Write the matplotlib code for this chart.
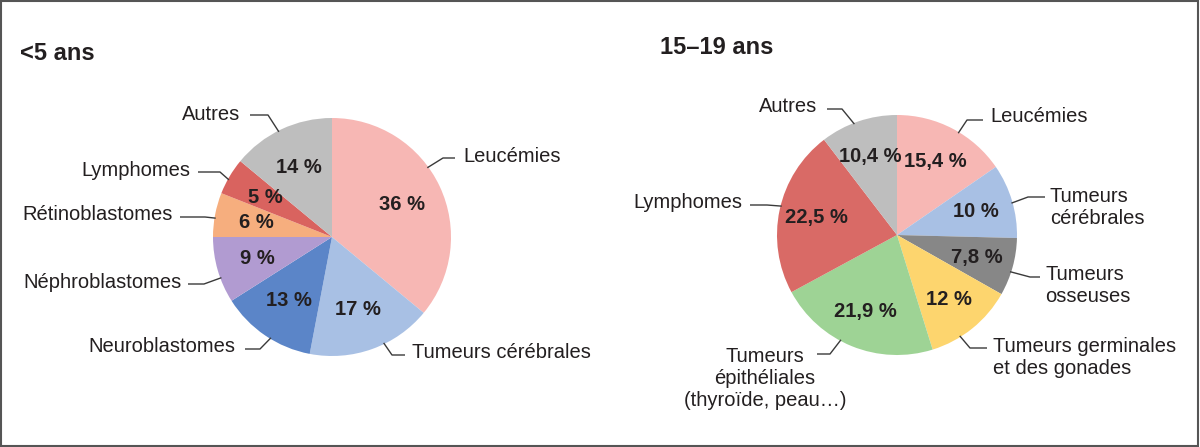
import matplotlib
matplotlib.use("Agg")
import numpy as np
import matplotlib.pyplot as plt
from matplotlib.patches import Rectangle

plt.rcParams['font.family'] = ['Liberation Sans', 'DejaVu Sans']

# Données
titre_gauche = "<5 ans"
cat_gauche = ["Leucémies", "Tumeurs cérébrales", "Neuroblastomes", "Néphroblastomes",
              "Rétinoblastomes", "Lymphomes", "Autres"]
val_gauche = [36, 17, 13, 9, 6, 5, 14]
coul_gauche = ["#f7b7b4", "#a8c0e4", "#5b85c8", "#b19bd1", "#f6ae7e", "#d9635f", "#bebebe"]

titre_droite = "15–19 ans"
cat_droite = ["Leucémies", "Tumeurs\ncérébrales", "Tumeurs\nosseuses",
              "Tumeurs germinales\net des gonades",
              "Tumeurs\népithéliales\n(thyroïde, peau…)", "Lymphomes", "Autres"]
val_droite = [15.4, 10, 7.8, 12, 21.9, 22.5, 10.4]
coul_droite = ["#f7b7b4", "#a8c0e4", "#878787", "#fdd56e", "#9ed395", "#d96a66", "#bebebe"]

# Mise en page (pixels, origine en haut à gauche)
W, H = 1200, 447
TXT = "#231f20"
# (x texte, y texte, ha, y trait, début trait, coude, décalage angle)
pos_gauche = [(463, 157, 'left', 158, 455, 443, 10.8),
              (412, 353, 'left', 355, 405, 392, 6.2),
              (235, 347, 'right', 349, 245, 260, 3),
              (182, 282, 'right', 284, 188, 204, 4),
              (173, 215, 'right', 217, 180, 205, 1.6),
              (190, 170, 'right', 172, 198, 220, 1.6),
              (240, 114, 'right', 115, 250, 268, 1.6)]
pos_droite = [(990, 117, 'left', 120, 983, 967, -3.3),
              (1050, 207, 'left', 197, 1045, 1028, -1),
              (1045, 285, 'left', 277, 1040, 1030, -2.5),
              (993, 357, 'left', 348, 987, 970, -7),
              (765, 378, 'center', 354, 817, 830, -6),
              (742, 203, 'right', 205, 750, 767, -2),
              (817, 107, 'right', 109, 827, 842, 2.3)]


def fmt(v):
    return f"{v:g}".replace(".", ",") + " %"


def camembert(ax, valeurs, noms, couleurs, centre, rayon, pctdist, positions):
    cx, cy = centre[0], H - centre[1]
    wedges, _ = ax.pie(valeurs, colors=couleurs, startangle=90, counterclock=False,
                       center=(cx, cy), radius=rayon, frame=True,
                       wedgeprops=dict(linewidth=0))
    for w, v, nom, p in zip(wedges, valeurs, noms, positions):
        mid = np.deg2rad((w.theta1 + w.theta2) / 2)
        ax.text(cx + pctdist * rayon * np.cos(mid), cy + pctdist * rayon * np.sin(mid),
                fmt(v), ha='center', va='center', fontsize=14.5,
                fontweight='bold', color=TXT)
        tx, ty, ha, ly, x0, x1, dang = p
        ax.text(tx, H - ty, nom, ha=ha, va='center', fontsize=14.5, color=TXT,
                multialignment=ha if ha != 'right' else 'right', linespacing=1.2)
        a = mid + np.deg2rad(dang)
        ex, ey = cx + rayon * 0.99 * np.cos(a), cy + rayon * 0.99 * np.sin(a)
        ax.plot([x0, x1, ex], [H - ly, H - ly, ey], color="#3a3a3a", lw=1.0,
                solid_capstyle='butt')


fig = plt.figure(figsize=(W / 100, H / 100), dpi=100)
ax = fig.add_axes([0, 0, 1, 1])

camembert(ax, val_gauche, cat_gauche, coul_gauche, (332, 237), 119, 0.65, pos_gauche)
camembert(ax, val_droite, cat_droite, coul_droite, (897, 235), 120, 0.69, pos_droite)

ax.text(20, H - 53, titre_gauche, ha='left', va='center', fontsize=17,
        fontweight='bold', color=TXT)
ax.text(660, H - 47, titre_droite, ha='left', va='center', fontsize=17,
        fontweight='bold', color=TXT)

ax.set_xlim(0, W)
ax.set_ylim(0, H)
ax.set_aspect('equal')
ax.axis('off')

fig.patches.append(Rectangle((0.001, 0.002), 0.997, 0.996, transform=fig.transFigure,
                             fill=False, ec="#555555", lw=1.5))

fig.savefig("out.png", dpi=100, facecolor="white")
